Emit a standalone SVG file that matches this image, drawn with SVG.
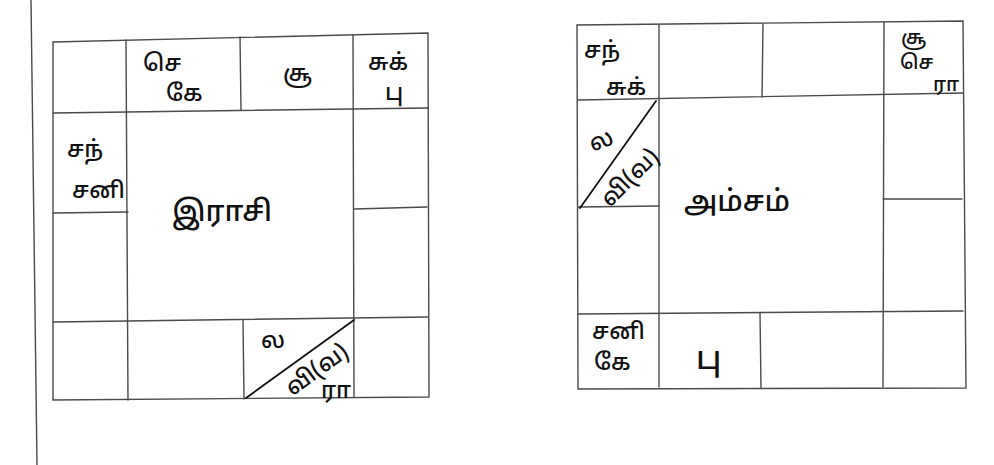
<svg xmlns="http://www.w3.org/2000/svg" width="994" height="465" viewBox="0 0 994 465">
<style>
.ln{stroke:#4a4a4a;stroke-width:1.4;fill:none;stroke-linecap:round}
.dg{stroke:#111;stroke-width:1.8;fill:none;stroke-linecap:round}
.t{font-family:"Noto Sans Tamil","Noto Sans","Lohit Tamil",sans-serif;fill:#111;font-size:23px;font-weight:500}
.sm{font-size:20px}
.big{font-size:29px}
</style>
<rect width="994" height="465" fill="#fff"/>
<line class="ln" x1="31" y1="0" x2="37" y2="465"/>
<g id="rasi">
<g id="rasi-grid">
<polygon class="ln" points="53,42 428,33 429,397 53,400"/>
<line class="ln" x1="53" y1="113" x2="428" y2="108"/>
<line class="ln" x1="126" y1="40" x2="128" y2="400"/>
<line class="ln" x1="240" y1="37" x2="241" y2="110"/>
<line class="ln" x1="353" y1="35" x2="354" y2="397"/>
<line class="ln" x1="53" y1="322" x2="428" y2="317"/>
<line class="ln" x1="53" y1="213" x2="128" y2="212"/>
<line class="ln" x1="354" y1="209" x2="427" y2="207"/>
<line class="ln" x1="243" y1="320" x2="244" y2="399"/>
<line class="dg" x1="246" y1="398" x2="354" y2="320"/>
</g>
<text class="t" x="143" y="71">செ</text>
<text class="t" x="166" y="101">கே</text>
<text class="t" x="283" y="81">சூ</text>
<text class="t" x="368" y="70">சுக்</text>
<text class="t" x="385" y="100">பு</text>
<text class="t" x="67" y="157">சந்</text>
<text class="t" x="72" y="198">சனி</text>
<text class="t big" x="222" y="221" text-anchor="middle">இராசி</text>
<text class="t" x="261" y="348">ல</text>
<text class="t" x="317" y="377" text-anchor="middle" transform="rotate(-36 317 370)">வி(வ)</text>
<text class="t" x="321" y="398">ரா</text>
</g>
<g id="amsam">
<g id="amsam-grid">
<polygon class="ln" points="577,25 963,21 966,388 578,389"/>
<line class="ln" x1="578" y1="100" x2="963" y2="93"/>
<line class="ln" x1="659" y1="25" x2="659" y2="387"/>
<line class="ln" x1="763" y1="24" x2="762" y2="97"/>
<line class="ln" x1="884" y1="22" x2="883" y2="387"/>
<line class="ln" x1="578" y1="314" x2="963" y2="311"/>
<line class="ln" x1="578" y1="207" x2="659" y2="206"/>
<line class="ln" x1="883" y1="199" x2="962" y2="199"/>
<line class="ln" x1="760" y1="313" x2="761" y2="388"/>
<line class="dg" x1="580" y1="208" x2="656" y2="101"/>
</g>
<text class="t" x="584" y="58">சந்</text>
<text class="t" x="606" y="95">சுக்</text>
<text class="t sm" x="901" y="44">சூ</text>
<text class="t sm" x="900" y="69">செ</text>
<text class="t sm" x="933" y="91">ரா</text>
<text class="t" x="601" y="148" text-anchor="middle" transform="rotate(-20 601 140)">ல</text>
<text class="t" x="630" y="185" text-anchor="middle" transform="rotate(-45 630 178)">வி(வ)</text>
<text class="t big" x="737" y="211" text-anchor="middle">அம்சம்</text>
<text class="t" x="592" y="339">சனி</text>
<text class="t" x="594" y="370">கே</text>
<text class="t" x="696" y="369" style="font-size:32px">பு</text>
</g>
</svg>
